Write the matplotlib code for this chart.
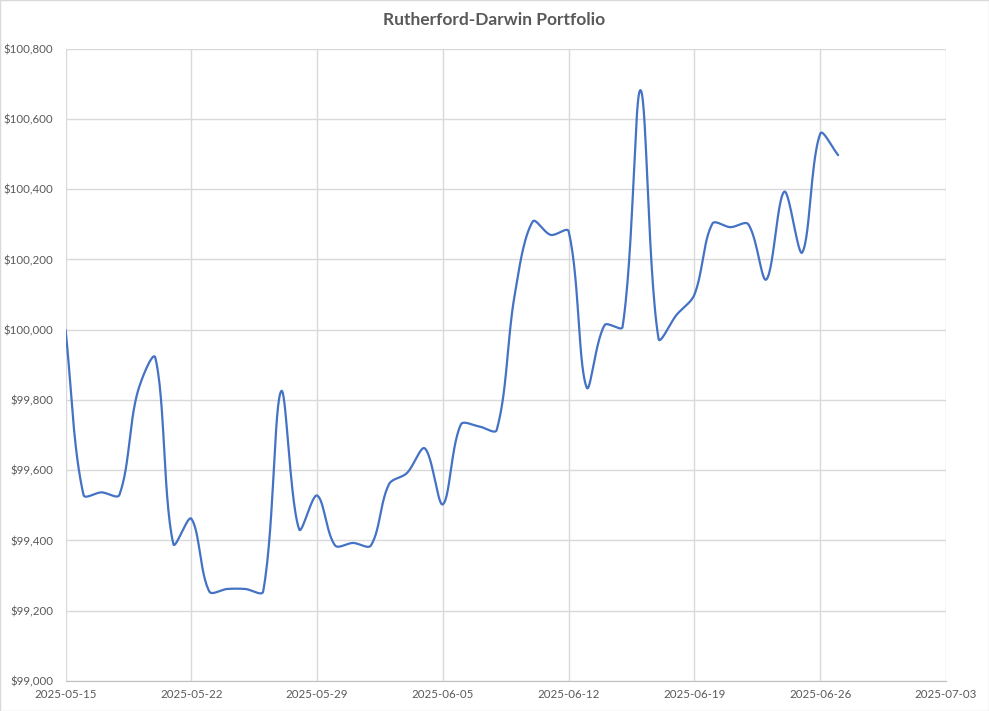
import numpy as np
import pandas as pd
import matplotlib
matplotlib.use("Agg")
import matplotlib.pyplot as plt
import matplotlib.dates as mdates
from matplotlib.ticker import FuncFormatter, MultipleLocator

# =========================
# 数据
# =========================

START_DATE = "2025-05-15"

VALUES = [
    100000, 99530, 99537, 99530, 99820, 99920, 99390, 99462,
    99255, 99262, 99262, 99255, 99825, 99432, 99528, 99386,
    99393, 99386, 99560, 99592, 99662, 99503, 99730, 99725,
    99715, 100100, 100308, 100270, 100280, 99836, 100013, 100008,
    100682, 99975, 100042, 100100, 100302, 100292, 100300, 100143,
    100393, 100220, 100558, 100497,
]

TITLE = "Rutherford-Darwin Portfolio"
X_MIN, X_MAX = "2025-05-15", "2025-07-03"
Y_MIN, Y_MAX, Y_STEP = 99000, 100800, 200

LINE_COLOR = "#4472C4"
GRID_COLOR = "#D9D9D9"
TEXT_COLOR = "#595959"

# 坐标轴在图中的像素位置
AX_LEFT, AX_RIGHT, AX_TOP, AX_BOTTOM = 65.5, 946, 48.7, 681


# =========================
# Excel 风格平滑曲线（按屏幕距离加权的 Bezier）
# =========================

def smooth_curve(x, y, sx_scale, sy_scale, n=30):
    x = np.asarray(x, dtype=float)
    y = np.asarray(y, dtype=float)
    px = np.concatenate([[x[0]], x, [x[-1]]])
    py = np.concatenate([[y[0]], y, [y[-1]]])

    def dist(i, j):
        return np.hypot((px[j] - px[i]) * sx_scale, (py[j] - py[i]) * sy_scale)

    xs, ys = [], []
    t = np.linspace(0, 1, n)
    for i in range(1, len(px) - 2):
        x0, x1, x2, x3 = px[i - 1], px[i], px[i + 1], px[i + 2]
        y0, y1, y2, y3 = py[i - 1], py[i], py[i + 1], py[i + 2]
        d01, d12, d23 = dist(i - 1, i), dist(i, i + 1), dist(i + 1, i + 2)
        f1 = d12 / (d01 + d12) / 3 if d01 + d12 > 0 else 0
        f2 = d12 / (d12 + d23) / 3 if d12 + d23 > 0 else 0
        c1x, c1y = x1 + (x2 - x0) * f1, y1 + (y2 - y0) * f1
        c2x, c2y = x2 - (x3 - x1) * f2, y2 - (y3 - y1) * f2
        b0 = (1 - t) ** 3
        b1 = 3 * (1 - t) ** 2 * t
        b2 = 3 * (1 - t) * t ** 2
        b3 = t ** 3
        xs.append(b0 * x1 + b1 * c1x + b2 * c2x + b3 * x2)
        ys.append(b0 * y1 + b1 * c1y + b2 * c2y + b3 * y2)
    return np.concatenate(xs), np.concatenate(ys)


dates = pd.date_range(START_DATE, periods=len(VALUES), freq="D")
xnum = mdates.date2num(dates.to_pydatetime())
x0n = mdates.date2num(pd.Timestamp(X_MIN).to_pydatetime())
x1n = mdates.date2num(pd.Timestamp(X_MAX).to_pydatetime())
px_per_day = (AX_RIGHT - AX_LEFT) / (x1n - x0n)
px_per_usd = (AX_BOTTOM - AX_TOP) / (Y_MAX - Y_MIN)
sx, sy = smooth_curve(xnum, VALUES, px_per_day, px_per_usd)

plt.rcParams["font.family"] = ["Lato", "DejaVu Sans"]

fig = plt.figure(figsize=(9.89, 7.11), dpi=100)
ax = fig.add_axes([AX_LEFT / 989, (711 - AX_BOTTOM) / 711,
                   (AX_RIGHT - AX_LEFT) / 989, (AX_BOTTOM - AX_TOP) / 711])

ax.plot(sx, sy, color=LINE_COLOR, linewidth=1.6,
        solid_capstyle="round", zorder=3)

ax.set_xlim(x0n, x1n)
ax.set_ylim(Y_MIN, Y_MAX)
ax.yaxis.set_major_locator(MultipleLocator(Y_STEP))
ax.yaxis.set_major_formatter(FuncFormatter(lambda v, _: f"${v:,.0f}"))
tick_dates = pd.date_range(X_MIN, X_MAX, freq="7D")
ax.set_xticks(mdates.date2num(tick_dates.to_pydatetime()))
ax.set_xticklabels([d.strftime("%Y-%m-%d") for d in tick_dates])

ax.grid(True, color=GRID_COLOR, linewidth=1.0)
ax.set_axisbelow(True)
for side in ["top", "right", "left"]:
    ax.spines[side].set_visible(False)
ax.spines["bottom"].set_color("#BFBFBF")
ax.tick_params(length=0, labelsize=8.3, colors=TEXT_COLOR)
ax.tick_params(axis="y", pad=9)
ax.tick_params(axis="x", pad=6)

fig.text(0.5, 1 - 20 / 711, TITLE, ha="center", va="center",
         fontsize=12.5, fontweight="bold", color=TEXT_COLOR)

fig.patches.append(plt.Rectangle((0, 0), 1, 1, transform=fig.transFigure,
                                 fill=False, edgecolor=GRID_COLOR, linewidth=1))

fig.savefig("out.png", dpi=100)
